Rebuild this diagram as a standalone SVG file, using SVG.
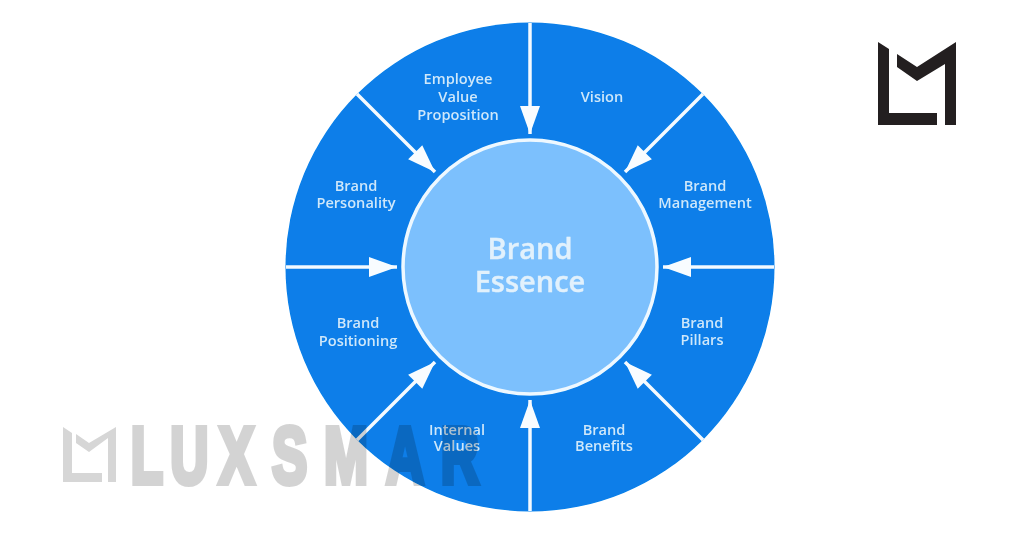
<svg xmlns="http://www.w3.org/2000/svg" width="1024" height="533" viewBox="0 0 1024 533">
<style>
.lb{font-family:"Open Sans","Liberation Sans",sans-serif;font-weight:600;font-size:14.600px;fill:#cfe7fa;text-anchor:middle}
.core{font-family:"Open Sans","Liberation Sans",sans-serif;font-weight:600;font-size:29px;fill:#e2f1fc;text-anchor:middle;stroke:#e2f1fc;stroke-width:.4}
.arrow{stroke:#f4faff;stroke-width:3.5;fill:none;marker-end:url(#head)}
</style>
<defs>
<marker id="head" markerUnits="userSpaceOnUse" markerWidth="30" markerHeight="24" refX="29" refY="12" orient="auto">
<path d="M1 2L29 12L1 22Z" fill="#f8fcff"/>
</marker>
<filter id="soft" x="-5%" y="-5%" width="110%" height="110%"><feGaussianBlur stdDeviation=".45"/></filter>
</defs>
<rect width="1024" height="533" fill="#fff"/>
<g filter="url(#soft)">
<g id="wheel"><circle cx="530" cy="267" r="244.500" fill="#077ee9"/></g>
<g id="connectors">
<line class="arrow" x1="530" y1="23" x2="530" y2="134"/>
<line class="arrow" x1="703" y1="94" x2="625" y2="172"/>
<line class="arrow" x1="774" y1="267" x2="663" y2="267"/>
<line class="arrow" x1="703" y1="440" x2="625" y2="362"/>
<line class="arrow" x1="530" y1="511" x2="530" y2="400"/>
<line class="arrow" x1="357" y1="440" x2="435" y2="362"/>
<line class="arrow" x1="286" y1="267" x2="397" y2="267"/>
<line class="arrow" x1="357" y1="94" x2="435" y2="172"/>
</g>
<g id="brand-essence">
<circle cx="530" cy="267" r="127" fill="#7cc0fd" stroke="#eef8ff" stroke-width="3.500"/>
<text class="core" x="530" y="259">Brand</text>
<text class="core" x="530" y="292">Essence</text>
</g>
<g id="employee-value-proposition">
<text class="lb" x="458" y="84">Employee</text>
<text class="lb" x="458" y="102">Value</text>
<text class="lb" x="458" y="120">Proposition</text>
</g>
<g id="vision"><text class="lb" x="602" y="102">Vision</text></g>
<g id="brand-management">
<text class="lb" x="705" y="191">Brand</text>
<text class="lb" x="705" y="208">Management</text>
</g>
<g id="brand-pillars">
<text class="lb" x="702" y="328">Brand</text>
<text class="lb" x="702" y="345">Pillars</text>
</g>
<g id="brand-benefits">
<text class="lb" x="604" y="435">Brand</text>
<text class="lb" x="604" y="451">Benefits</text>
</g>
<g id="internal-values">
<text class="lb" x="457" y="435">Internal</text>
<text class="lb" x="457" y="451">Values</text>
</g>
<g id="brand-positioning">
<text class="lb" x="358" y="328">Brand</text>
<text class="lb" x="358" y="346">Positioning</text>
</g>
<g id="brand-personality">
<text class="lb" x="356" y="191">Brand</text>
<text class="lb" x="356" y="208">Personality</text>
</g>
</g>
<g id="logo" fill="#231f20">
<path d="M878 42L889 49V113H937V125H878Z"/>
<path d="M897 54L917 67L956 42V125H945V64L917 81L897 67Z"/>
</g>
<g id="watermark">
<g fill="#d6d6d6">
<path d="M63 427L72 433V473H102V482H63Z"/>
<path d="M76 434L89 443L116 427V482H108V438L89 452L76 443Z"/>
</g>
<g opacity=".17">
<text transform="translate(0 483) scale(.66 1)" x="198 258 332 412 491 585 668" y="0" font-family="'Liberation Sans',sans-serif" font-weight="700" font-size="80" fill="#000" stroke="#000" stroke-width="6">LUXSMAR</text>
</g>
</g>
</svg>
